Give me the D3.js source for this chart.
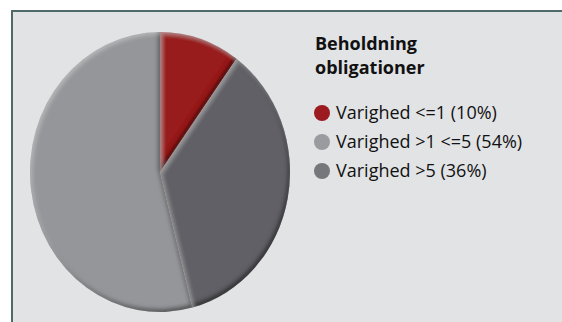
<!DOCTYPE html>
<html>
<head>
<meta charset="utf-8">
<script src="https://cdn.jsdelivr.net/npm/d3@7"></script>
<style>
  body { margin: 0; background: #fff; }
  svg { display: block; }
</style>
</head>
<body>
<div id="chart"></div>
<script>
// data
const labels = ["Varighed <=1 (10%)", "Varighed >1 <=5 (54%)", "Varighed >5 (36%)"];
const values = [10, 54, 36];
const sliceColors = ["#991b1f", "#95969a", "#606166"];
const legendColors = ["#9b1b20", "#9a9b9f", "#76777b"];
const title = ["Beholdning", "obligationer"];

const W = 562, H = 322;
const svg = d3.select("#chart").append("svg")
    .attr("width", W)
    .attr("height", H);

// bevel filter
const defs = svg.append("defs");
const f = defs.append("filter").attr("id", "bevel")
    .attr("x", "-10%").attr("y", "-10%").attr("width", "120%").attr("height", "120%");
f.append("feGaussianBlur").attr("in", "SourceAlpha").attr("stdDeviation", 2.2).attr("result", "blur");
f.append("feOffset").attr("in", "blur").attr("dx", -2.5).attr("dy", -2.5).attr("result", "offA");
f.append("feComposite").attr("in", "SourceAlpha").attr("in2", "offA").attr("operator", "out").attr("result", "shMask");
f.append("feFlood").attr("flood-color", "#000").attr("flood-opacity", 0.75);
f.append("feComposite").attr("in2", "shMask").attr("operator", "in").attr("result", "shadow");
f.append("feOffset").attr("in", "blur").attr("dx", 2).attr("dy", 2).attr("result", "offB");
f.append("feComposite").attr("in", "SourceAlpha").attr("in2", "offB").attr("operator", "out").attr("result", "hlMask");
f.append("feFlood").attr("flood-color", "#fff").attr("flood-opacity", 0.25);
f.append("feComposite").attr("in2", "hlMask").attr("operator", "in").attr("result", "hl");
const m = f.append("feMerge");
m.append("feMergeNode").attr("in", "SourceGraphic");
m.append("feMergeNode").attr("in", "shadow");
m.append("feMergeNode").attr("in", "hl");

// panel, only top and left edges fall inside the picture
svg.append("rect")
    .attr("x", 12).attr("y", 11)
    .attr("width", W + 20).attr("height", H + 20)
    .attr("fill", "#e2e3e5")
    .attr("stroke", "#4f6a6a")
    .attr("stroke-width", 2);

// pie (slightly elliptical)
const r = 130, rx = 130, ry = 140;
const pie = d3.pie().sort(null)
    .startAngle(Math.PI * 2 * 0.1)
    .endAngle(Math.PI * 2 * 0.1 - Math.PI * 2);
const arc = d3.arc().innerRadius(0).outerRadius(r);

const g = svg.append("g")
    .attr("transform", `translate(160,172) scale(${rx / r},${ry / r})`);

g.selectAll("path")
  .data(pie(values))
  .enter()
  .append("path")
    .attr("d", arc)
    .attr("fill", (d, i) => sliceColors[i])
    .attr("filter", "url(#bevel)");

// legend
const lg = svg.append("g").attr("font-family", "'Open Sans', sans-serif");
lg.selectAll("text.title")
  .data(title)
  .enter()
  .append("text")
    .attr("class", "title")
    .attr("x", 315)
    .attr("y", (d, i) => 50 + i * 24)
    .attr("font-size", "18px")
    .attr("font-weight", "bold")
    .attr("fill", "#111")
    .text(d => d);

const items = lg.selectAll("g.item")
  .data(labels)
  .enter()
  .append("g")
    .attr("class", "item")
    .attr("transform", (d, i) => `translate(322,${113 + i * 29})`);

items.append("circle")
    .attr("r", 8)
    .attr("fill", (d, i) => legendColors[i]);

items.append("text")
    .attr("x", 14)
    .attr("y", 6)
    .attr("font-size", "18px")
    .attr("fill", "#111")
    .text(d => d);
</script>
</body>
</html>
